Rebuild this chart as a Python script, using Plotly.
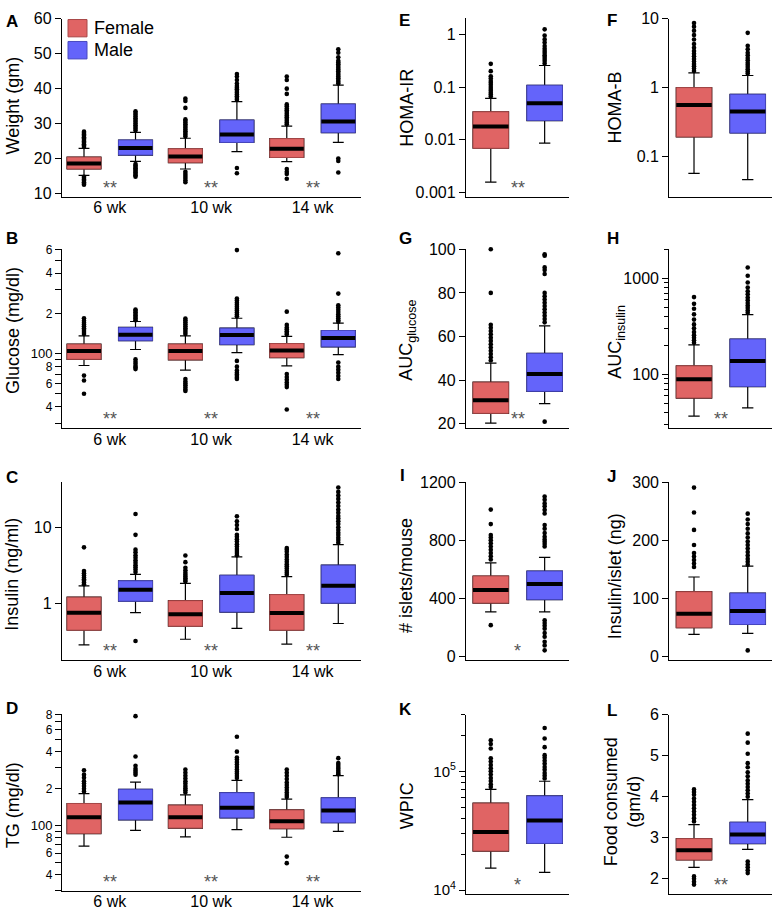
import plotly.graph_objects as go

W, H = 774, 919
FONT = "Arial, 'Liberation Sans', Helvetica, sans-serif"
F_FILL, F_LINE = "#E06464", "#A84848"
M_FILL, M_LINE = "#6464FA", "#4848C0"

# ---------------- data ----------------
weeks = ["6 wk", "10 wk", "14 wk"]

# Panel A: Weight (gm)  stats = [lowerfence, q1, median, q3, upperfence] per week
A_f_lf = [15.2, 17.0, 19.1]; A_f_q1 = [17.0, 18.8, 20.3]; A_f_med = [18.6, 20.6, 22.8]; A_f_q3 = [20.4, 22.8, 25.7]; A_f_uf = [22.9, 25.8, 29.3]
A_m_lf = [19.2, 22.0, 24.6]; A_m_q1 = [21.0, 24.6, 27.4]; A_m_med = [23.0, 26.9, 30.6]; A_m_q3 = [25.3, 31.0, 35.6]; A_m_uf = [27.5, 36.3, 41.0]
A_f_out = [[23.3, 23.7, 24.1, 24.5, 24.9, 25.3, 25.7, 26.1, 26.5, 26.9, 27.3, 27.7, 14.8, 14.4, 14.0, 13.6, 13.2, 12.8, 12.5],
           [26.3, 26.8, 27.3, 27.8, 28.3, 28.8, 29.3, 29.8, 30.3, 30.8, 31.2, 34.5, 36.5, 37.2, 16.2, 15.6, 15.0, 14.4, 13.8, 13.2],
           [29.8, 30.3, 30.8, 31.3, 31.8, 32.3, 32.8, 33.3, 33.8, 34.3, 35.0, 35.5, 38.5, 40.0, 42.5, 43.5, 17.0, 16.2, 15.6, 14.2]]
A_m_out = [[28.0, 28.5, 29.0, 29.5, 30.0, 30.5, 31.0, 31.5, 32.0, 32.5, 33.0, 33.5, 18.4, 18.0, 17.6, 17.2, 16.8, 16.4, 16.0, 15.6, 15.2, 14.8],
           [36.8, 37.3, 37.8, 38.3, 38.8, 39.3, 39.8, 40.3, 40.8, 41.5, 42.5, 43.5, 44.2, 17.3, 15.8],
           [41.5, 42.0, 42.5, 43.0, 43.5, 44.0, 44.5, 45.0, 45.5, 46.0, 46.5, 47.0, 47.5, 48.0, 49.0, 50.3, 51.3, 20.0, 19.3, 16.0]]

# Panel B: Glucose (mg/dl)
B_f_lf = [81.6, 75.4, 81.2]; B_f_q1 = [90.8, 90.0, 93.5]; B_f_med = [104.7, 104.7, 105.7]; B_f_q3 = [117.9, 118.0, 119.0]; B_f_uf = [136, 136, 134.8]
B_m_lf = [107.5, 101.7, 98.3]; B_m_q1 = [125, 117, 112.6]; B_m_med = [138.7, 138, 131]; B_m_q3 = [157, 155, 149]; B_m_uf = [174, 184, 169]
B_f_out = [[140, 145, 150, 155, 160, 165, 170, 176, 184, 68.6, 63, 50.2],
           [140, 145, 150, 155, 160, 166, 172, 178, 183, 64.7, 62, 60, 58, 56, 54, 52.6],
           [139, 143, 147, 152, 157, 164, 206, 70.4, 67, 64, 61, 58.5, 56.3, 38.3]]
B_m_out = [[178, 183, 188, 193, 198, 204, 209, 214, 90.8, 87, 84, 81, 79, 76.7],
           [190, 196, 203, 210, 217, 224, 232, 240, 250, 258, 594, 88.3, 80, 75, 72, 70, 68, 66, 64.7],
           [173, 178, 184, 190, 197, 205, 213, 221, 230, 281, 563, 85.9, 80, 76, 72, 68, 64.7]]

# Panel C: Insulin (ng/ml)
C_f_lf = [0.29, 0.344, 0.297]; C_f_q1 = [0.453, 0.51, 0.453]; C_f_med = [0.766, 0.73, 0.76]; C_f_q3 = [1.22, 1.10, 1.32]; C_f_uf = [1.72, 1.85, 2.27]
C_m_lf = [0.766, 0.477, 0.553]; C_m_q1 = [1.083, 0.78, 1.02]; C_m_med = [1.53, 1.386, 1.72]; C_m_q3 = [1.995, 2.36, 3.2]; C_m_uf = [2.43, 4.1, 5.92]
C_f_out = [[1.8, 1.9, 2.0, 2.1, 2.2, 2.35, 2.5, 2.68, 5.47],
           [1.95, 2.05, 2.15, 2.27, 2.4, 2.55, 2.75, 2.96, 3.5, 4.27],
           [2.4, 2.55, 2.7, 2.9, 3.1, 3.3, 3.55, 3.8, 4.1, 4.4, 4.8, 5.1, 5.37]]
C_m_out = [[2.6, 2.8, 3.0, 3.2, 3.45, 3.7, 4.0, 4.3, 4.7, 5.1, 7.96, 14.9, 0.327],
           [4.3, 4.6, 4.9, 5.2, 5.6, 6.0, 6.5, 7.0, 7.5, 7.96, 9.5, 10.7, 12, 13.9],
           [6.3, 6.8, 7.3, 7.9, 8.5, 9.2, 10, 11, 12, 13, 14, 15.5, 17, 19, 21, 23.5, 26, 29, 33.1]]

# Panel D: TG (mg/dl)
D_f_lf = [68.3, 81, 80.6]; D_f_q1 = [86.3, 95.7, 94.6]; D_f_med = [117.2, 117, 108.8]; D_f_q3 = [151.6, 147, 134.3]; D_f_uf = [182, 178, 164.5]
D_m_lf = [91.7, 92.9, 90]; D_m_q1 = [111.7, 115.9, 105.7]; D_m_med = [154.5, 140, 133.2]; D_m_q3 = [197.7, 185.5, 168.4]; D_m_uf = [226, 234, 255.7]
D_f_out = [[190, 200, 210, 220, 230, 245, 260, 282],
           [186, 194, 202, 210, 220, 230, 242, 255, 270, 286],
           [171, 178, 186, 195, 204, 214, 225, 240, 255, 270, 286, 56.1, 49.6]]
D_m_out = [[260, 270, 280, 290, 307, 365, 777],
           [244, 254, 264, 275, 287, 300, 315, 330, 345, 358, 400, 528],
           [262, 270, 280, 290, 300, 312, 323, 354]]

# Panels E-L: single comparison Female vs Male
E_f = [0.00157, 0.00689, 0.0178, 0.0339, 0.061]; E_m = [0.00859, 0.0231, 0.0494, 0.108, 0.256]
E_f_out = [0.066, 0.072, 0.078, 0.085, 0.092, 0.1, 0.11, 0.12, 0.13, 0.145, 0.16, 0.2, 0.275]
E_m_out = [0.28, 0.31, 0.34, 0.37, 0.4, 0.44, 0.48, 0.53, 0.6, 0.7, 0.8, 0.95, 1.24]

F_f = [0.0567, 0.192, 0.56, 1.0, 1.64]; F_m = [0.046, 0.219, 0.449, 0.80, 1.5]
F_f_out = [1.75, 1.9, 2.05, 2.2, 2.4, 2.6, 2.85, 3.1, 3.4, 3.8, 4.3, 5, 5.8, 6.7, 7.7, 8.7]
F_m_out = [1.6, 1.72, 1.85, 2.0, 2.15, 2.3, 2.5, 2.7, 2.95, 3.2, 3.6, 4.05, 6.25, 10.3]

G_f = [20.3, 24.8, 30.8, 39.1, 47.8]; G_m = [29.3, 34.9, 42.8, 52.3, 64.9]
G_f_out = [49, 50.5, 52, 53.5, 55, 56.5, 58, 59.5, 61, 62.5, 64, 65.4, 80, 100]
G_m_out = [66.5, 68, 69.5, 71, 72.5, 74, 75.5, 77, 78.5, 80, 88.7, 90.5, 91.7, 97, 97.7, 21]

H_f = [36.6, 56.4, 88.3, 122, 202]; H_m = [44.5, 74.3, 137, 232, 418]
H_f_out = [212, 225, 240, 255, 275, 300, 330, 370, 420, 480, 540, 635]
H_m_out = [435, 460, 490, 520, 550, 590, 630, 680, 730, 800, 900, 1058, 1290]

I_f = [306, 367, 457, 554, 645]; I_m = [306, 391, 498, 588, 683]
I_f_out = [668, 690, 712, 735, 758, 780, 800, 820, 837, 912, 1012, 215]
I_m_out = [758, 775, 790, 805, 825, 850, 880, 905, 985, 1010, 1035, 1055, 1080, 1102, 249, 230, 210, 190, 160, 135, 100, 75, 41]

J_f = [37.9, 49.2, 73.5, 111.4, 136.8]; J_m = [39.6, 54.8, 78, 109, 155.5]
J_f_out = [154, 160, 166, 172, 178, 192, 218, 248, 291]
J_m_out = [158, 163, 168, 174, 180, 186, 192, 198, 205, 212, 220, 228, 236, 246, 10.2]

K_f = [15300, 21300, 30800, 54000, 70500]; K_m = [14100, 24700, 38500, 62100, 82600]
K_f_out = [74000, 78000, 83000, 88000, 94000, 100000, 106000, 113000, 121000, 129000, 156000, 170000, 183000]
K_m_out = [87000, 92000, 97000, 103000, 109000, 116000, 123000, 130000, 137000, 160000, 189000, 232000]

L_f = [2.28, 2.46, 2.70, 2.98, 3.32]; L_m = [2.72, 2.86, 3.08, 3.38, 3.93]
L_f_out = [3.4, 3.48, 3.56, 3.64, 3.72, 3.8, 3.88, 3.96, 4.05, 4.12, 4.18, 2.06, 2.0, 1.93, 1.86]
L_m_out = [4.0, 4.08, 4.16, 4.24, 4.32, 4.4, 4.5, 4.6, 4.72, 4.82, 5.05, 5.32, 5.54, 2.42, 2.35, 2.28, 2.21, 2.14]

# ---------------- helpers ----------------
fig = go.Figure()
annotations, shapes, lay = [], [], {}


def xd(l, r):
    return [l / W, r / W]


def yd(t, b):
    return [1 - b / H, 1 - t / H]


def add_boxes(n, pos, lf, q1, med, q3, uf, outs, fill, line, bw):
    xa = "x" if n == 1 else f"x{n}"
    ya = "y" if n == 1 else f"y{n}"
    common = dict(x=pos, width=bw, xaxis=xa, yaxis=ya, showlegend=False, hoverinfo="skip", boxpoints=False)
    # whiskers
    fig.add_trace(go.Box(q1=q1, median=med, q3=q3, lowerfence=lf, upperfence=uf,
                         line=dict(color="black", width=1.2), fillcolor="rgba(0,0,0,0)",
                         whiskerwidth=0.32, **common))
    # coloured box
    fig.add_trace(go.Box(q1=q1, median=med, q3=q3, lowerfence=q1, upperfence=q3,
                         line=dict(color=line, width=1), fillcolor=fill, whiskerwidth=0, **common))
    # thick median
    fig.add_trace(go.Box(q1=med, median=med, q3=med, lowerfence=med, upperfence=med,
                         line=dict(color="black", width=4), fillcolor="rgba(0,0,0,0)", whiskerwidth=0, **common))
    xs, ys = [], []
    for p, o in zip(pos, outs):
        xs += [p] * len(o)
        ys += o
    fig.add_trace(go.Scatter(x=xs, y=ys, mode="markers", xaxis=xa, yaxis=ya, showlegend=False, cliponaxis=False,
                             hoverinfo="skip", marker=dict(color="black", size=4.6, line=dict(width=0))))


def axes(n, xpx, ypx, xrange, yaxis_extra, xticks=None):
    xk = "xaxis" if n == 1 else f"xaxis{n}"
    yk = "yaxis" if n == 1 else f"yaxis{n}"
    xa = "x" if n == 1 else f"x{n}"
    ya = "y" if n == 1 else f"y{n}"
    xcfg = dict(domain=xd(*xpx), range=xrange, anchor=ya, showline=True, linecolor="black", linewidth=1.3,
                showgrid=False, zeroline=False, fixedrange=True)
    if xticks:
        xcfg.update(tickmode="array", tickvals=list(range(len(xticks))), ticktext=xticks, ticks="",
                    ticklabelstandoff=-4, tickfont=dict(size=16, color="black", family=FONT))
    else:
        xcfg.update(showticklabels=False, ticks="", tickmode="array", tickvals=[])
    ycfg = dict(domain=yd(*ypx), anchor=xa, showline=True, linecolor="black", linewidth=1.3, showgrid=False,
                zeroline=False, ticks="outside", ticklen=6, tickwidth=1.2, tickcolor="black",
                tickfont=dict(size=16, color="black", family=FONT), fixedrange=True)
    ycfg.update(yaxis_extra)
    lay[xk] = xcfg
    lay[yk] = ycfg


def label(txt, xpx, ypx):
    annotations.append(dict(text=f"<b>{txt}</b>", x=xpx / W, y=1 - ypx / H, xref="paper", yref="paper",
                            xanchor="left", yanchor="middle", showarrow=False,
                            font=dict(size=17, color="black", family=FONT)))


def ytitle(txt, xpx, ypx):
    annotations.append(dict(text=txt, x=xpx / W, y=1 - ypx / H, xref="paper", yref="paper", textangle=-90,
                            xanchor="center", yanchor="middle", showarrow=False,
                            font=dict(size=18, color="black", family=FONT)))


def stars(n, txt, xval):
    xa = "x" if n == 1 else f"x{n}"
    ya = "y" if n == 1 else f"y{n}"
    annotations.append(dict(text=txt, x=xval, y=0, xref=xa, yref=f"{ya} domain", xanchor="center",
                            yanchor="bottom", yshift=-3, showarrow=False,
                            font=dict(size=18, color="#555555", family=FONT)))


# ---------------- left column (A-D) ----------------
GX = [0, 1, 2]
OFF = 0.254
BW3 = 0.335
XR3 = [-0.471, 2.478]
fpos3 = [g - OFF for g in GX]
mpos3 = [g + OFF for g in GX]

big = lambda s: f'<span style="font-size:13px">{s}</span>'
B_tv = [30, 40, 50, 60, 70, 80, 90, 100, 200, 300, 400, 500, 600]
B_tt = [" ", "4", " ", "6", " ", "8", " ", big("100"), "2", " ", "4", " ", "6"]
D_tv = [30, 40, 50, 60, 70, 80, 90, 100, 200, 300, 400, 500, 600, 700, 800]
D_tt = [" ", "4", " ", "6", " ", "8", " ", big("100"), "2", " ", "4", " ", "6", " ", "8"]

left_panels = [
    (1, (11, 192), dict(type="linear", range=[8.96, 60], tickmode="array", tickvals=[10, 20, 30, 40, 50, 60]),
     (A_f_lf, A_f_q1, A_f_med, A_f_q3, A_f_uf, A_f_out), (A_m_lf, A_m_q1, A_m_med, A_m_q3, A_m_uf, A_m_out)),
    (2, (245.2, 426.7), dict(type="log", range=[1.4434, 2.7785], tickmode="array", tickvals=B_tv, ticktext=B_tt,
                             tickfont=dict(size=12, color="black", family=FONT)),
     (B_f_lf, B_f_q1, B_f_med, B_f_q3, B_f_uf, B_f_out), (B_m_lf, B_m_q1, B_m_med, B_m_q3, B_m_uf, B_m_out)),
    (3, (481.7, 662.3), dict(type="log", range=[-0.737, 1.587], tickmode="array", tickvals=[1, 10], ticktext=["1", "10"]),
     (C_f_lf, C_f_q1, C_f_med, C_f_q3, C_f_uf, C_f_out), (C_m_lf, C_m_q1, C_m_med, C_m_q3, C_m_uf, C_m_out)),
    (4, (717.3, 896.7), dict(type="log", range=[1.469, 2.905], tickmode="array", tickvals=D_tv, ticktext=D_tt,
                             tickfont=dict(size=12, color="black", family=FONT)),
     (D_f_lf, D_f_q1, D_f_med, D_f_q3, D_f_uf, D_f_out), (D_m_lf, D_m_q1, D_m_med, D_m_q3, D_m_uf, D_m_out)),
]

for n, ypx, ycfg, fs, ms in left_panels:
    axes(n, (62, 361), ypx, XR3, ycfg, xticks=weeks)
    add_boxes(n, fpos3, *fs, F_FILL, F_LINE, BW3)
    add_boxes(n, mpos3, *ms, M_FILL, M_LINE, BW3)
    for g in GX:
        stars(n, "**", g)

# ---------------- middle & right columns (E-L) ----------------
XR2 = [-0.46, 1.452]
BW2 = 0.66
MIDX = (466, 569)
RIGX = (669.3, 772)

H_minor = [30, 40, 50, 60, 70, 80, 90, 200, 300, 400, 500, 600, 700, 800, 900, 2000]
K_minor = [20000, 30000, 40000, 50000, 60000, 70000, 80000, 90000, 200000, 300000]

pair_panels = [
    (5, MIDX, (10, 191.7), dict(type="log", range=[-3.082, 0.312], tickmode="array",
                                tickvals=[0.001, 0.01, 0.1, 1], ticktext=["0.001", "0.01", "0.1", "1"]),
     E_f, E_f_out, E_m, E_m_out, "**"),
    (6, RIGX, (11, 191.7), dict(type="log", range=[-1.587, 1.0], tickmode="array",
                                tickvals=[0.1, 1, 10], ticktext=["0.1", "1", "10"]),
     F_f, F_f_out, F_m, F_m_out, None),
    (7, MIDX, (245, 426.7), dict(type="linear", range=[18.0, 100], tickmode="array", tickvals=[20, 40, 60, 80, 100]),
     G_f, G_f_out, G_m, G_m_out, "**"),
    (8, RIGX, (245, 426.7), dict(type="log", range=[1.437, 3.301], tickmode="array", tickvals=[100, 1000],
                                 ticktext=["100", "1000"],
                                 minor=dict(tickmode="array", tickvals=H_minor, ticks="outside", ticklen=4,
                                            tickcolor="black", tickwidth=1)),
     H_f, H_f_out, H_m, H_m_out, "**"),
    (9, MIDX, (481.7, 662.3), dict(type="linear", range=[-27, 1200], tickmode="array", tickvals=[0, 400, 800, 1200]),
     I_f, I_f_out, I_m, I_m_out, "*"),
    (10, RIGX, (481.7, 662.3), dict(type="linear", range=[-6.75, 300], tickmode="array", tickvals=[0, 100, 200, 300]),
     J_f, J_f_out, J_m, J_m_out, None),
    (11, MIDX, (717.7, 899.3), dict(type="log", range=[3.97, 5.477], tickmode="array", tickvals=[10000, 100000],
                                    ticktext=["10<sup>4</sup>", "10<sup>5</sup>"],
                                    tickfont=dict(size=15, color="black", family=FONT),
                                    minor=dict(tickmode="array", tickvals=K_minor, ticks="outside", ticklen=4,
                                               tickcolor="black", tickwidth=1)),
     K_f, K_f_out, K_m, K_m_out, "*"),
    (12, RIGX, (717.7, 899.3), dict(type="linear", range=[1.64, 6], tickmode="array", tickvals=[2, 3, 4, 5, 6]),
     L_f, L_f_out, L_m, L_m_out, "**"),
]

for n, xpx, ypx, ycfg, fst, fout, mst, mout, st in pair_panels:
    axes(n, xpx, ypx, XR2, ycfg)
    add_boxes(n, [0], [fst[0]], [fst[1]], [fst[2]], [fst[3]], [fst[4]], [fout], F_FILL, F_LINE, BW2)
    add_boxes(n, [1], [mst[0]], [mst[1]], [mst[2]], [mst[3]], [mst[4]], [mout], M_FILL, M_LINE, BW2)
    if st:
        stars(n, st, 0.5)

# ---------------- labels ----------------
for t, x, y in [("A", 4, 13.5), ("B", 3.5, 234.5), ("C", 4, 476.7), ("D", 4, 711.7),
                ("E", 396.7, 12.3), ("F", 605, 12.3), ("G", 396.7, 234.5), ("H", 605, 234.5),
                ("I", 398, 475), ("J", 605, 476), ("K", 396.7, 712.7), ("L", 605, 713.3)]:
    label(t, x, y)

for t, x, y in [("Weight (gm)", 12.5, 99.5), ("Glucose (mg/dl)", 12.5, 327.5), ("Insulin (ng/ml)", 12.5, 575),
                ("TG (mg/dl)", 12.5, 810), ("HOMA-IR", 406.7, 101.7), ("HOMA-B", 615, 101),
                ("AUC<sub>glucose</sub>", 408, 338), ("AUC<sub>insulin</sub>", 617, 339),
                ("# islets/mouse", 406.7, 576), ("Insulin/islet (ng)", 615, 577), ("WPIC", 406.7, 810),
                ("Food consumed<br>(gm/d)", 622.5, 806)]:
    ytitle(t, x, y)

# legend (panel A)
for (fill, line, t0, t1, name, yc) in [(F_FILL, F_LINE, 11.7, 29.3, "Female", 20.5),
                                       (M_FILL, M_LINE, 34.0, 51.7, "Male", 43.0)]:
    shapes.append(dict(type="rect", xref="paper", yref="paper", x0=68 / W, x1=87 / W, y0=1 - t1 / H, y1=1 - t0 / H,
                       fillcolor=fill, line=dict(color=line, width=1)))
    annotations.append(dict(text=name, x=91.5 / W, y=1 - yc / H, xref="paper", yref="paper", xanchor="left",
                            yanchor="middle", showarrow=False, font=dict(size=18, color="black", family=FONT)))

fig.update_layout(width=W, height=H, margin=dict(l=0, r=0, t=0, b=0), paper_bgcolor="white",
                  plot_bgcolor="white", showlegend=False, boxmode="overlay",
                  annotations=annotations, shapes=shapes, font=dict(family=FONT, color="black"), **lay)

fig.write_html("out.html", config={"displayModeBar": False},
               post_script="document.body.style.margin='0px';document.body.style.overflow='hidden';")
